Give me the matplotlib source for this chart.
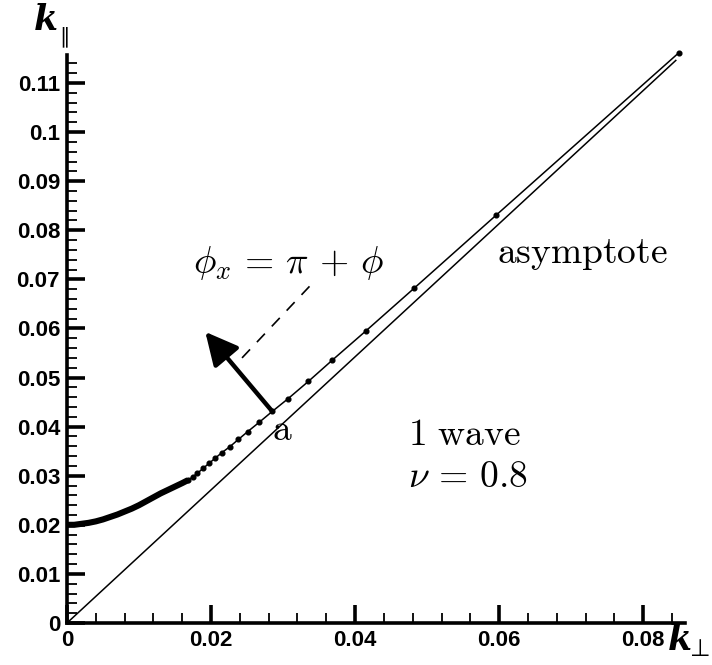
import matplotlib
matplotlib.use("Agg")
import matplotlib.pyplot as plt
from matplotlib.ticker import MultipleLocator, FuncFormatter

# Dispersion branch: densely sampled part near k_perp = 0
dense_kperp = [0.000, 0.001, 0.002, 0.003, 0.004, 0.005, 0.006, 0.007, 0.008,
               0.009, 0.010, 0.011, 0.012, 0.013, 0.014, 0.015, 0.016, 0.0168]
dense_kpar = [0.0200, 0.0200, 0.0202, 0.0204, 0.0207, 0.0211, 0.0216, 0.0221, 0.0227,
              0.0233, 0.0240, 0.0248, 0.0256, 0.0264, 0.0271, 0.0278, 0.0285, 0.0291]

# Dispersion branch: sampled points (dots)
pts_kperp = [0.0168, 0.0175, 0.0181, 0.0189, 0.0197, 0.0206, 0.0215, 0.0226, 0.0238,
             0.0251, 0.0267, 0.0285, 0.0307, 0.0335, 0.0368, 0.0415, 0.0482, 0.0596, 0.0849]
pts_kpar = [0.0291, 0.0298, 0.0305, 0.0315, 0.0325, 0.0336, 0.0347, 0.0359, 0.0374,
            0.0390, 0.0409, 0.0431, 0.0457, 0.0492, 0.0535, 0.0595, 0.0682, 0.0831, 0.1161]

# Asymptote through the origin
asym_kperp = [0.0, 0.0846]
asym_kpar = [0.0, 0.1147]

# Point "a", direction arrow and dashed guide
point_a = (0.0285, 0.0431)
arrow_tip = (0.0192, 0.0593)
dash_kperp = [0.0243, 0.0342]
dash_kpar = [0.0540, 0.0694]

x_major = [0.0, 0.02, 0.04, 0.06, 0.08]
y_major = [0.0, 0.01, 0.02, 0.03, 0.04, 0.05, 0.06, 0.07, 0.08, 0.09, 0.10, 0.11]

plt.rcParams["mathtext.fontset"] = "cm"

fig = plt.figure(figsize=(7.12, 6.65), dpi=100)
ax = fig.add_axes([67 / 712, 42 / 665, 618 / 712, 568 / 665])
ax.set_xlim(0, 0.0858)
ax.set_ylim(0, 0.1157)

for s in ("top", "right"):
    ax.spines[s].set_visible(False)
for s in ("left", "bottom"):
    ax.spines[s].set_linewidth(2.6)

ax.plot(asym_kperp, asym_kpar, color="k", lw=1.1, solid_capstyle="butt")
ax.plot(dense_kperp, dense_kpar, color="k", lw=4.4, solid_capstyle="butt")
ax.plot(pts_kperp, pts_kpar, color="k", lw=1.1, marker="o", ms=3.4, clip_on=False)

ax.plot(dash_kperp, dash_kpar, color="k", lw=1.2, dashes=(7, 6))
ax.annotate("", xy=arrow_tip, xytext=point_a,
            arrowprops=dict(arrowstyle="-|>,head_length=0.9,head_width=0.45",
                            lw=3.2, color="k", shrinkA=0, shrinkB=0,
                            mutation_scale=22))

ax.xaxis.set_major_locator(plt.FixedLocator(x_major))
ax.yaxis.set_major_locator(plt.FixedLocator(y_major))
ax.xaxis.set_minor_locator(MultipleLocator(0.004))
ax.yaxis.set_minor_locator(MultipleLocator(0.002))
fmt = FuncFormatter(lambda v, p: "0" if abs(v) < 1e-12 else f"{v:g}")
ax.xaxis.set_major_formatter(fmt)
ax.yaxis.set_major_formatter(fmt)
ax.tick_params(which="major", direction="in", length=13, width=2.6,
               labelsize=16, pad=5)
ax.tick_params(which="minor", direction="in", length=7, width=1.3)
for lab in ax.get_xticklabels() + ax.get_yticklabels():
    lab.set_fontfamily("Liberation Sans")
    lab.set_fontweight("bold")

# axis labels
fig.text(46 / 712, 1 - 20 / 665, "k", fontfamily="DejaVu Serif", fontweight="bold",
         fontstyle="italic", fontsize=25, ha="center", va="center")
fig.text(64 / 712, 1 - 37 / 665, "\u2225", fontfamily="DejaVu Sans",
         fontsize=15, ha="center", va="center")
fig.text(680 / 712, 1 - 640 / 665, "k", fontfamily="DejaVu Serif", fontweight="bold",
         fontstyle="italic", fontsize=25, ha="center", va="center")
fig.text(700 / 712, 1 - 649 / 665, "\u22a5", fontfamily="DejaVu Sans",
         fontsize=17, ha="center", va="center")

tsize = 27
ax.text(0.0175, 0.0713, r"$\phi_x \,=\, \pi \,+\, \phi$", fontsize=tsize, va="baseline")
ax.text(0.0597, 0.0733, r"$\mathrm{asymptote}$", fontsize=tsize, va="baseline")
ax.text(0.0474, 0.0363, r"$1\ \mathrm{wave}$", fontsize=tsize, va="baseline")
ax.text(0.0474, 0.0277, r"$\nu \,=\, 0.8$", fontsize=tsize, va="baseline")
ax.text(0.0299, 0.0393, r"$\mathrm{a}$", fontsize=tsize, ha="center", va="center")

fig.savefig("out.png", dpi=100)
